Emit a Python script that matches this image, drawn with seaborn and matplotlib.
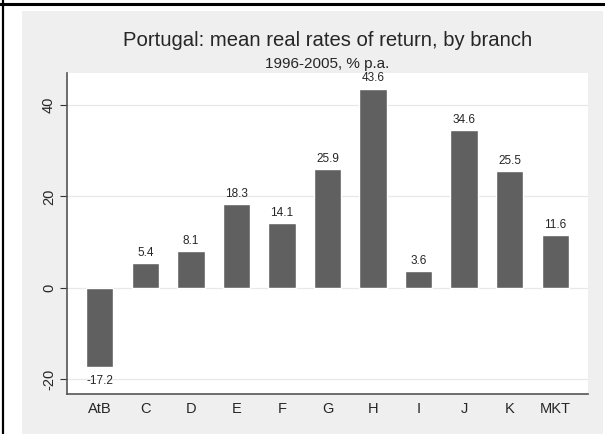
import matplotlib
matplotlib.use("Agg")
import matplotlib.pyplot as plt
from matplotlib.patches import Rectangle
from matplotlib.lines import Line2D
import seaborn as sns
import pandas as pd

# ============================================================
# DATA
# ============================================================

branches = ["AtB", "C", "D", "E", "F", "G", "H", "I", "J", "K", "MKT"]
returns = [-17.2, 5.4, 8.1, 18.3, 14.1, 25.9, 43.6, 3.6, 34.6, 25.5, 11.6]
y_ticks = [-20, 0, 20, 40]

title = "Portugal: mean real rates of return, by branch"
subtitle = "1996-2005, % p.a."

df = pd.DataFrame({"branch": branches, "ret": returns})

# ============================================================
# FIGURE
# ============================================================

sns.set_style("white")
plt.rcParams["font.family"] = ["Liberation Sans", "DejaVu Sans"]

W, H = 605, 434
fig = plt.figure(figsize=(W / 100, H / 100), dpi=100)
fig.patch.set_facecolor("white")

# grey graph region and black frame lines
fig.patches.append(Rectangle((22 / W, 0), (603 - 22) / W, 1 - 11 / H,
                             transform=fig.transFigure, facecolor="#efefef",
                             edgecolor="none", zorder=-5))
fig.lines.append(Line2D([0, 1], [1 - 3.5 / H, 1 - 3.5 / H],
                        transform=fig.transFigure, color="black", lw=2.2))
fig.lines.append(Line2D([3 / W, 3 / W], [0, 1],
                        transform=fig.transFigure, color="black", lw=1.6))

ax = fig.add_axes([67 / W, 1 - 394 / H, (588 - 67) / W, (394 - 73) / H])
ax.set_facecolor("white")

sns.barplot(
    data=df,
    x="branch",
    y="ret",
    color="#606060",
    saturation=1,
    width=0.6,
    ax=ax,
    zorder=3
)

# value labels
for i, v in enumerate(returns):
    if v >= 0:
        ax.annotate(f"{v:.1f}", (i, v), xytext=(0, 3), textcoords="offset points",
                    ha="center", va="bottom", fontsize=8.5)
    else:
        ax.annotate(f"{v:.1f}", (i, v), xytext=(0, -6), textcoords="offset points",
                    ha="center", va="top", fontsize=8.5)

ax.set_ylim(-23.2, 47.0)
ax.set_xlim(-0.72, 10.72)
ax.set_yticks(y_ticks)
ax.set_yticklabels([str(t) for t in y_ticks], rotation=90, va="center")
ax.yaxis.grid(True, color="#e8e8e8", lw=0.9, zorder=0)
ax.set_axisbelow(True)

ax.set_xlabel("")
ax.set_ylabel("")

for s in ["top", "right"]:
    ax.spines[s].set_visible(False)
for s in ["left", "bottom"]:
    ax.spines[s].set_color("#555555")
    ax.spines[s].set_linewidth(1.2)

ax.tick_params(axis="y", direction="out", length=5, width=0.8, color="#333333",
               labelsize=10.5, pad=3, left=True)
ax.tick_params(axis="x", length=0, labelsize=10.5, pad=6)

fig.text(327.5 / W, 1 - 46.5 / H, title, ha="center", va="baseline", fontsize=14.6)
fig.text(327.5 / W, 1 - 68 / H, subtitle, ha="center", va="baseline", fontsize=11)

fig.savefig("out.png", dpi=100)
